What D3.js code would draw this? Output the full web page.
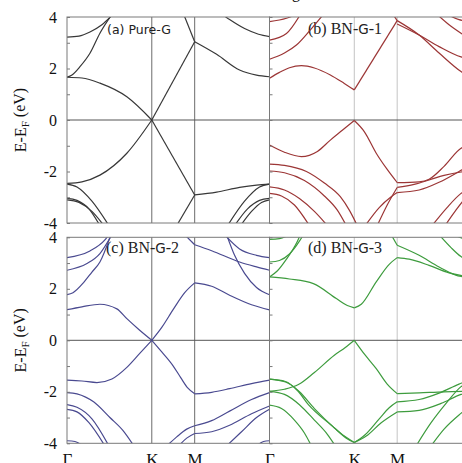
<!DOCTYPE html>
<html>
<head>
<meta charset="utf-8">
<script src="https://cdn.jsdelivr.net/npm/d3@7"></script>
<style>
  html, body { margin: 0; padding: 0; background: #fff; }
  svg { display: block; }
</style>
</head>
<body>
<div id="chart"></div>
<script>
// k-path (k-point index along G-K-M-G) and axis ticks
var kTicks     = [0, 85, 128, 203];
var kLabels    = ["\u0393", "K", "M", "\u0393"];
var eTicks     = [-4, -3, -2, -1, 0, 1, 2, 3, 4];
var eLabels    = ["-4", "", "-2", "", "0", "", "2", "", "4"];
var titles     = ["(a) Pure-G", "(b) BN-G-1", "(c) BN-G-2", "(d) BN-G-3"];

// bands, [k, E-EF]
var bandsA = [
  [[0,1.66],[15,1.63],[33,1.43],[60,0.9],[85,0],[128,-2.91],[150,-2.8],[173,-2.62],[190,-2.53],[203,-2.49]],
  [[0,-2.46],[15,-2.4],[33,-2.14],[60,-1.29],[85,0],[128,3.04],[150,2.55],[173,1.94],[190,1.74],[203,1.68]],
  [[0,3.22],[12,3.26],[23,3.42],[35,3.7],[46,4.1]],
  [[0,1.66],[5,1.75],[13,2.07],[23,2.59],[33,3.37],[45,4.1]],
  [[116,4.2],[128,3.04]],
  [[152,4.2],[163,3.9],[178,3.55],[192,3.33],[203,3.24]],
  [[0,-2.49],[10,-2.6],[25,-3.15],[42,-4.1]],
  [[0,-3.04],[10,-3.12],[22,-3.45],[33,-4.1]],
  [[0,-3.1],[12,-3.2],[25,-3.55],[37,-4.1]],
  [[110,-4.1],[128,-2.91]],
  [[161,-4.1],[178,-3.15],[193,-2.6],[203,-2.49]],
  [[168,-4.1],[181,-3.45],[193,-3.12],[203,-3.04]],
  [[174,-4.1],[185,-3.55],[195,-3.2],[203,-3.1]]
];

var bandsB = [
  [[0,1.62],[10,1.85],[20,2.03],[32,2.11],[45,2.02],[61,1.75],[75,1.42],[85,1.17],[128,3.86],[150,3.3],[170,2.6],[192,1.88],[203,1.62]],
  [[123,4.15],[128,3.86]],
  [[128,3.73],[150,3.3],[170,2.85],[192,2.45],[203,2.36]],
  [[0,2.36],[15,2.6],[27,2.91],[41,3.5],[54,4.1]],
  [[0,3.1],[17,3.36],[31,4.1]],
  [[0,3.82],[17,3.95],[27,4.1]],
  [[168,4.1],[180,3.7],[192,3.37],[203,3.1]],
  [[178,4.1],[190,3.9],[203,3.82]],
  [[0,-0.97],[15,-1.25],[32,-1.42],[48,-1.22],[61,-0.78],[73,-0.4],[85,-0.02],[95,-0.45],[107,-1.29],[118,-1.92],[128,-2.43],[150,-2.4],[160,-2.3],[175,-1.8],[192,-1.1],[203,-0.97]],
  [[0,-1.71],[15,-1.76],[37,-2.0],[55,-2.45],[71,-2.98],[80,-3.5],[88,-4.1]],
  [[0,-1.98],[15,-2.05],[35,-2.35],[55,-2.95],[68,-3.5],[77,-4.1]],
  [[0,-2.6],[15,-2.72],[30,-3.05],[45,-3.55],[58,-4.1]],
  [[0,-2.85],[12,-2.95],[25,-3.3],[40,-4.1]],
  [[96,-4.1],[110,-3.4],[122,-2.98],[128,-2.82],[150,-2.72],[170,-2.42],[190,-2.0],[203,-1.71]],
  [[108,-4.1],[118,-3.3],[128,-2.62],[145,-2.5],[160,-2.33],[175,-2.15],[192,-2.02],[203,-1.98]],
  [[163,-4.1],[178,-3.4],[192,-2.85],[203,-2.6]],
  [[176,-4.1],[186,-3.55],[194,-3.15],[203,-2.85]]
];

var bandsC = [
  [[0,-1.55],[15,-1.58],[30,-1.64],[45,-1.5],[60,-1.05],[72,-0.55],[85,0],[95,-0.45],[106,-0.97],[114,-1.45],[121,-1.85],[128,-2.08],[145,-2.02],[163,-1.88],[185,-1.68],[203,-1.55]],
  [[0,-2.03],[10,-2.08],[27,-2.4],[43,-3.0],[56,-3.5],[67,-4.1]],
  [[0,-2.5],[10,-2.6],[25,-3.05],[42,-4.1]],
  [[0,-2.68],[10,-2.78],[22,-3.2],[38,-4.1]],
  [[0,-3.9],[8,-3.93],[16,-4.1]],
  [[100,-4.1],[110,-3.75],[120,-3.45],[128,-3.32],[145,-3.12],[163,-2.75],[185,-2.3],[203,-2.03]],
  [[112,-4.1],[120,-3.8],[128,-3.62],[145,-3.55],[163,-3.3],[185,-2.85],[203,-2.55]],
  [[160,-4.1],[175,-3.55],[190,-3.0],[203,-2.68]],
  [[190,-4.1],[197,-3.93],[203,-3.9]],
  [[0,1.19],[15,1.3],[33,1.4],[50,1.22],[60,0.84],[72,0.42],[85,0],[95,0.5],[107,1.23],[118,1.85],[128,2.23],[145,2.1],[163,1.75],[185,1.38],[203,1.18]],
  [[0,1.77],[6,1.85],[17,2.26],[25,2.65],[33,3.04],[44,4.1]],
  [[0,2.72],[20,2.98],[33,3.37],[45,4.1]],
  [[0,3.21],[23,3.47],[38,3.9],[42,4.1]],
  [[118,4.1],[128,3.71],[145,3.48],[173,3.04],[190,2.85],[203,2.72]],
  [[158,4.1],[173,3.55],[190,3.3],[203,3.21]],
  [[160,4.1],[168,3.3],[178,2.6],[190,2.05],[203,1.77]]
];

var bandsD = [
  [[0,2.46],[20,2.38],[44,2.2],[67,1.62],[78,1.35],[85,1.26],[92,1.4],[107,2.27],[120,2.95],[128,3.21],[140,3.15],[160,2.91],[180,2.62],[203,2.46]],
  [[0,2.46],[8,2.7],[17,3.15],[28,3.85],[31,4.1]],
  [[0,3.04],[10,3.1],[20,3.35],[30,3.85],[34,4.1]],
  [[0,3.92],[10,3.95],[20,4.1]],
  [[122,4.1],[128,3.69],[150,3.3],[170,2.85],[192,2.48],[203,2.46]],
  [[170,4.1],[182,3.6],[192,3.25],[203,3.04]],
  [[185,4.1],[195,3.95],[203,3.92]],
  [[0,-1.98],[15,-1.9],[29,-1.72],[45,-1.25],[65,-0.58],[76,-0.28],[85,0],[96,-0.58],[107,-1.1],[118,-1.7],[128,-2.07],[150,-2.04],[175,-2.0],[203,-1.98]],
  [[0,-1.51],[16,-1.62],[28,-1.95],[39,-2.5],[62,-3.3],[75,-3.72],[85,-3.97],[95,-3.7],[110,-3.05],[120,-2.62],[128,-2.39],[150,-2.3],[170,-2.05],[190,-1.7],[203,-1.51]],
  [[0,-1.51],[16,-1.6],[30,-2.0],[45,-2.65],[65,-3.4],[77,-3.8],[85,-3.97],[97,-3.72],[112,-3.2],[128,-2.78],[150,-2.72],[172,-2.45],[192,-2.1],[203,-1.98]],
  [[0,-1.98],[15,-2.1],[30,-2.5],[45,-3.1],[58,-3.65],[66,-4.1]],
  [[0,-2.52],[12,-2.65],[25,-3.1],[35,-3.6],[42,-4.1]],
  [[147,-4.1],[162,-3.2],[177,-2.45],[192,-1.8],[203,-1.55]],
  [[162,-4.1],[175,-3.45],[190,-2.9],[203,-2.52]]
];

// layout
var width = 462, height = 463;
var panelW = 202.5, panelH = 206;
var colX = [67, 269.5], rowY = [17, 237.3];

var panels = [
  { bands: bandsA, title: titles[0], col: 0, row: 0, color: "#383838", sym: "#6c6c6c", font: "sans" },
  { bands: bandsB, title: titles[1], col: 1, row: 0, color: "#9c3636", sym: "#c4c4c4", font: "serif" },
  { bands: bandsC, title: titles[2], col: 0, row: 1, color: "#4a4a90", sym: "#6c6c6c", font: "serif" },
  { bands: bandsD, title: titles[3], col: 1, row: 1, color: "#3e9c3e", sym: "#c4c4c4", font: "serif" }
];

var svg = d3.select("#chart").append("svg")
    .attr("width", width)
    .attr("height", height);

// caption above, cut off by the picture edge
svg.append("text")
    .attr("x", 292).attr("y", -2)
    .style("font-family", "Liberation Serif, serif")
    .style("font-size", "16px")
    .text("g");

// split a band where the path turns (K, M)
function segments(band) {
  var out = [], cur = [];
  band.forEach(function(p, i) {
    cur.push(p);
    if (i > 0 && i < band.length - 1 && (p[0] === kTicks[1] || p[0] === kTicks[2])) {
      out.push(cur);
      cur = [p];
    }
  });
  if (cur.length > 1) out.push(cur);
  return out;
}

panels.forEach(function(p, pi) {
  var x0 = colX[p.col], y0 = rowY[p.row];
  var x = d3.scaleLinear().domain([kTicks[0], kTicks[3]]).range([x0, x0 + panelW]);
  var y = d3.scaleLinear().domain([-4, 4]).range([y0 + panelH, y0]);

  var g = svg.append("g");

  g.append("clipPath").attr("id", "clip" + pi)
    .append("rect")
    .attr("x", x0).attr("y", y0)
    .attr("width", panelW).attr("height", panelH);

  // high-symmetry lines
  g.selectAll("line.sym")
    .data(kTicks.slice(1, 3))
    .enter().append("line")
    .attr("x1", function(d) { return x(d); })
    .attr("x2", function(d) { return x(d); })
    .attr("y1", y0).attr("y2", y0 + panelH)
    .style("stroke", p.sym)
    .style("stroke-width", 1);

  // Fermi level
  g.append("line")
    .attr("x1", x0).attr("x2", x0 + panelW)
    .attr("y1", y(0)).attr("y2", y(0))
    .style("stroke", "#555")
    .style("stroke-width", 1);

  // title
  var t = g.append("text")
    .attr("x", p.col === 0 ? (p.row === 0 ? 107 : 106) : 308)
    .attr("y", p.row === 0 ? 34 : 253)
    .style("fill", "#222");
  if (p.font === "sans") {
    t.style("font-family", "DejaVu Sans, sans-serif").style("font-size", "12.5px").text(p.title);
  } else {
    var parts = p.title.split("G");
    t.style("font-family", "Liberation Serif, serif").style("font-size", "16px");
    t.append("tspan").text(parts[0]);
    t.append("tspan").style("font-family", "DejaVu Sans, sans-serif").style("font-size", "13.5px").text("G");
    t.append("tspan").text(parts[1]);
  }

  // bands
  var line = d3.line()
    .x(function(d) { return x(d[0]); })
    .y(function(d) { return y(d[1]); })
    .curve(d3.curveMonotoneX);

  var segs = [];
  p.bands.forEach(function(b) { segs = segs.concat(segments(b)); });

  g.append("g")
    .attr("clip-path", "url(#clip" + pi + ")")
    .selectAll("path")
    .data(segs)
    .enter().append("path")
    .attr("d", line)
    .style("fill", "none")
    .style("stroke", p.color)
    .style("stroke-width", 1.2);

  // frame
  g.append("rect")
    .attr("x", x0).attr("y", y0)
    .attr("width", panelW).attr("height", panelH)
    .style("fill", "none")
    .style("stroke", "#7a7a7a")
    .style("stroke-width", 1);

  // energy axis: inward ticks, labels on the left column only
  var yAxis = d3.axisLeft(y)
    .tickValues(eTicks)
    .tickSizeInner(-3)
    .tickSizeOuter(0)
    .tickPadding(10)
    .tickFormat(function(d, i) { return p.col === 0 ? eLabels[i] : ""; });

  var ya = g.append("g")
    .attr("transform", "translate(" + x0 + ",0)")
    .call(yAxis);
  ya.select(".domain").remove();
  ya.selectAll("line").style("stroke", "#7a7a7a");
  ya.selectAll("text")
    .style("font-family", "Liberation Serif, serif")
    .style("font-size", "16px")
    .style("fill", "#111");

  if (p.col === 0) {
    var lab = g.append("text")
      .attr("transform", "translate(26," + y(0) + ") rotate(-90)")
      .attr("text-anchor", "middle")
      .style("font-family", "Liberation Serif, serif")
      .style("font-size", "16px")
      .style("fill", "#111");
    lab.append("tspan").text("E-E");
    lab.append("tspan").attr("dy", "0.3em").style("font-size", "11px").text("F");
    lab.append("tspan").attr("dy", "-0.3em").text(" (eV)");
  }

  // k-path labels under the bottom row
  if (p.row === 1) {
    var xAxis = d3.axisBottom(x)
      .tickValues(kTicks)
      .tickSize(0)
      .tickPadding(10)
      .tickFormat(function(d, i) { return (p.col === 0 && i === 3) ? "" : kLabels[i]; });
    var xa = g.append("g")
      .attr("transform", "translate(0," + (y0 + panelH) + ")")
      .call(xAxis);
    xa.select(".domain").remove();
    xa.selectAll("text")
      .style("font-family", "Liberation Serif, serif")
      .style("font-size", "17px")
      .style("fill", "#111");
  }
});
</script>
</body>
</html>
